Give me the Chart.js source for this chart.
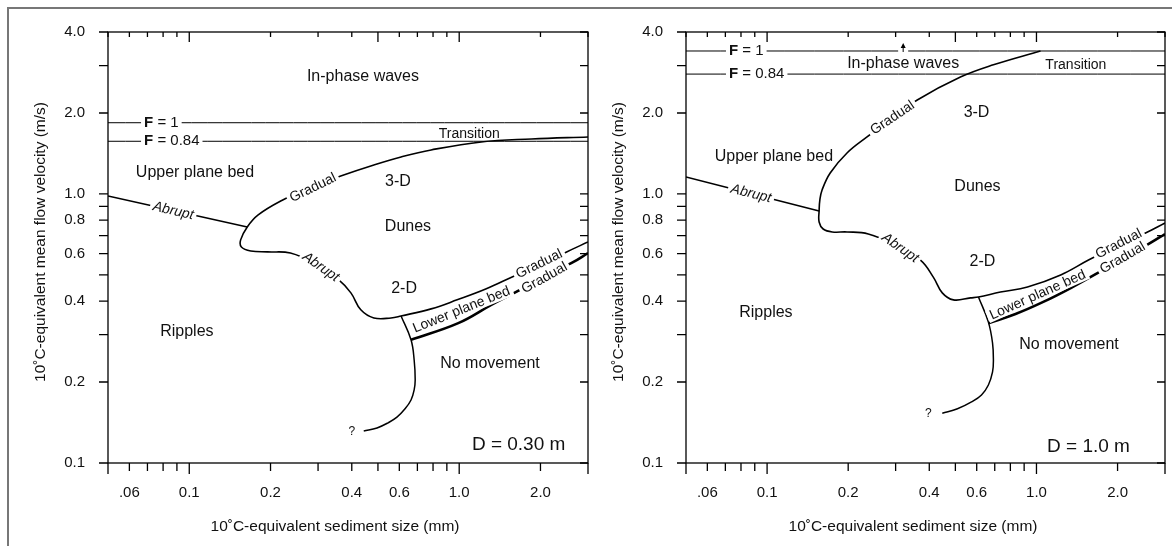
<!DOCTYPE html>
<html>
<head>
<meta charset="utf-8">
<script src="https://cdn.jsdelivr.net/npm/chart.js@4.4.0/dist/chart.umd.min.js"></script>
<style>
  body { margin: 0; background: #fff; }
  #wrap { position: relative; width: 1172px; height: 546px; overflow: hidden; }
  #frame { position: absolute; left: 7px; top: 7px; width: 1300px; height: 700px; border-left: 2px solid #777; border-top: 2px solid #777; }
  canvas { position: absolute; top: 0; }
  #left { left: 0; }
  #right { left: 590px; }
</style>
</head>
<body>
<div id="wrap">
  <div id="frame"></div>
  <canvas id="left" width="590" height="546"></canvas>
  <canvas id="right" width="582" height="546"></canvas>
</div>
<script>
const FONT = '"Liberation Sans", Arial, Helvetica, sans-serif';

// axes (shared by both panels)
const xMin = 0.05, xMax = 3.0, yMin = 0.1, yMax = 4.0;
const xTickValues = [0.05, 0.06, 0.07, 0.08, 0.09, 0.1, 0.2, 0.3, 0.4, 0.5, 0.6, 0.7, 0.8, 0.9, 1.0, 2.0, 3.0];
const xLabelValues = [0.06, 0.1, 0.2, 0.4, 0.6, 1.0, 2.0];
const xLabelTexts = ['.06', '0.1', '0.2', '0.4', '0.6', '1.0', '2.0'];
const yTickValues = [0.1, 0.2, 0.3, 0.4, 0.5, 0.6, 0.7, 0.8, 0.9, 1.0, 2.0, 3.0, 4.0];
const yLabelValues = [0.1, 0.2, 0.4, 0.6, 0.8, 1.0, 2.0, 4.0];
const yLabelTexts = ['0.1', '0.2', '0.4', '0.6', '0.8', '1.0', '2.0', '4.0'];
const xTitle = '10˚C-equivalent sediment size (mm)';
const yTitle = '10˚C-equivalent mean flow velocity (m/s)';

// D = 0.30 m panel, points are [sediment size mm, velocity m/s]
const leftFroude = [1.84, 1.57];
const leftAbrupt = [[0.05, 0.983], [0.164, 0.754]];
const leftMain = [
  [3.0, 0.663], [2.50, 0.609], [2.02, 0.549], [1.60, 0.496], [1.26, 0.444], [0.983, 0.404],
  [0.787, 0.374], [0.609, 0.352], [0.559, 0.346], [0.483, 0.346], [0.432, 0.371], [0.397, 0.429],
  [0.358, 0.479], [0.294, 0.549], [0.237, 0.603], [0.195, 0.609], [0.169, 0.614], [0.156, 0.635],
  [0.155, 0.675], [0.164, 0.754], [0.180, 0.836], [0.222, 0.950], [0.282, 1.062], [0.364, 1.167],
  [0.483, 1.282], [0.609, 1.373], [0.787, 1.458], [1.207, 1.561], [1.853, 1.601], [3.0, 1.629]
];
const leftLowerBed = [[0.663, 0.287], [0.992, 0.331], [1.315, 0.387], [1.60, 0.429], [2.02, 0.487], [2.61, 0.554], [3.0, 0.603]];
const leftNoMove = [
  [0.609, 0.352], [0.663, 0.287], [0.681, 0.2415], [0.687, 0.2035], [0.681, 0.187], [0.663, 0.1715],
  [0.630, 0.159], [0.588, 0.148], [0.545, 0.141], [0.496, 0.135], [0.443, 0.1315]
];
const leftRegions = [
  ['In-phase waves', 0.44, 2.72], ['Upper plane bed', 0.105, 1.20], ['3-D', 0.593, 1.11],
  ['Dunes', 0.646, 0.754], ['2-D', 0.625, 0.444], ['Ripples', 0.098, 0.307], ['No movement', 1.30, 0.235]
];
const leftLineLabels = [
  ['Abrupt', 0.0872, 0.865, 13, true], ['Gradual', 0.287, 1.053, -26, false], ['Abrupt', 0.307, 0.535, 35, true],
  ['Lower plane bed', 1.02, 0.371, -22, false], ['Gradual', 1.98, 0.549, -26, false], ['Gradual', 2.07, 0.487, -29, false]
];
const leftTransition = [1.09, 1.67];
const leftFLabelAt = 0.068;
const leftDepth = ['D = 0.30 m', 1.66, 0.117];
const leftQuery = [0.40, 0.131];

// D = 1.0 m panel
const rightFroude = [3.40, 2.79];
const rightAbrupt = [[0.05, 1.157], [0.156, 0.865]];
const rightMain = [
  [3.0, 0.780], [2.54, 0.716], [2.02, 0.646], [1.56, 0.568], [1.23, 0.500], [0.926, 0.451],
  [0.735, 0.432], [0.609, 0.414], [0.569, 0.411], [0.4915, 0.404], [0.447, 0.429], [0.414, 0.491],
  [0.371, 0.568], [0.299, 0.646], [0.2375, 0.710], [0.198, 0.7225], [0.1745, 0.7225], [0.1615, 0.741],
  [0.156, 0.787], [0.156, 0.865], [0.157, 0.950], [0.160, 1.035], [0.1715, 1.197], [0.198, 1.42],
  [0.235, 1.629], [0.292, 1.916], [0.361, 2.236], [0.522, 2.72], [0.692, 3.02], [1.035, 3.40]
];
const rightLowerBed = [[0.663, 0.331], [0.836, 0.358], [1.06, 0.397], [1.34, 0.447], [1.69, 0.509], [2.09, 0.573], [2.61, 0.652], [3.0, 0.710]];
const rightNoMove = [
  [0.609, 0.414], [0.663, 0.334], [0.687, 0.279], [0.692, 0.2415], [0.687, 0.218], [0.663, 0.195],
  [0.625, 0.179], [0.574, 0.1686], [0.509, 0.159], [0.447, 0.153]
];
const rightRegions = [
  ['In-phase waves', 0.32, 3.04], ['Upper plane bed', 0.106, 1.38], ['3-D', 0.599, 2.00],
  ['Dunes', 0.604, 1.062], ['2-D', 0.630, 0.559], ['Ripples', 0.099, 0.361], ['No movement', 1.32, 0.275]
];
const rightLineLabels = [
  ['Abrupt', 0.0872, 1.003, 14, true], ['Gradual', 0.292, 1.916, -34, false], ['Abrupt', 0.312, 0.630, 35, true],
  ['Lower plane bed', 1.01, 0.421, -24, false], ['Gradual', 2.02, 0.652, -27, false], ['Gradual', 2.09, 0.578, -30, false]
];
const rightTransition = [1.40, 3.02];
const rightFLabelAt = 0.0722;
const rightDepth = ['D = 1.0 m', 1.56, 0.115];
const rightQuery = [0.397, 0.153];
const rightArrow = [0.32, 3.40, 3.64];

const xLongBottom = [0.05, 0.1, 1.0, 3.0];
const xLongTop = [0.1, 0.5, 1.0];

function curve(points, width) {
  return {
    data: points.map(p => ({ x: p[0], y: p[1] })),
    borderColor: '#000',
    borderWidth: width,
    pointRadius: 0,
    tension: 0.4,
    fill: false
  };
}

function hline(v) {
  return curve([[xMin, v], [xMax, v]], 1);
}

function text(ctx, str, x, y, size, opts = {}) {
  ctx.save();
  ctx.translate(x, y);
  if (opts.angle) ctx.rotate(opts.angle * Math.PI / 180);
  ctx.font = (opts.italic ? 'italic ' : '') + (opts.bold ? 'bold ' : '') + size + 'px ' + FONT;
  ctx.textAlign = opts.align || 'center';
  ctx.textBaseline = 'middle';
  if (opts.bg) {
    const w = ctx.measureText(str).width;
    const x0 = ctx.textAlign === 'left' ? -3 : -w / 2 - 3;
    ctx.fillStyle = '#fff';
    ctx.fillRect(x0, -size * 0.45, w + 6, size * 0.9);
  }
  ctx.fillStyle = '#111';
  ctx.fillText(str, 0, 0);
  ctx.restore();
}

function froudeLabel(ctx, x, y, value) {
  ctx.save();
  ctx.textBaseline = 'middle';
  ctx.font = 'bold 15px ' + FONT;
  const wF = ctx.measureText('F').width;
  ctx.font = '15px ' + FONT;
  const rest = ' = ' + value;
  const wR = ctx.measureText(rest).width;
  ctx.fillStyle = '#fff';
  ctx.fillRect(x - 3, y - 7, wF + wR + 6, 14);
  ctx.fillStyle = '#111';
  ctx.font = 'bold 15px ' + FONT;
  ctx.fillText('F', x, y);
  ctx.font = '15px ' + FONT;
  ctx.fillText(rest, x + wF, y);
  ctx.restore();
}

function notesPlugin(p) {
  return {
    id: 'notes',
    afterDatasetsDraw(chart) {
      const ctx = chart.ctx, a = chart.chartArea;
      const xs = chart.scales.x, ys = chart.scales.y;
      const X = v => xs.getPixelForValue(v), Y = v => ys.getPixelForValue(v);

      // frame and tick marks
      ctx.save();
      ctx.strokeStyle = '#000';
      ctx.lineWidth = 1.3;
      ctx.strokeRect(a.left, a.top, a.right - a.left, a.bottom - a.top);
      ctx.beginPath();
      xTickValues.forEach(v => {
        const px = X(v);
        ctx.moveTo(px, a.bottom);
        ctx.lineTo(px, a.bottom + (xLongBottom.includes(v) ? 11 : 8));
        ctx.moveTo(px, a.top);
        ctx.lineTo(px, a.top + (xLongTop.includes(v) ? 10 : 5));
      });
      yTickValues.forEach(v => {
        const py = Y(v);
        ctx.moveTo(a.left - 9, py);
        ctx.lineTo(a.left, py);
        ctx.moveTo(a.right - 8, py);
        ctx.lineTo(a.right, py);
      });
      ctx.stroke();
      ctx.restore();

      p.regions.forEach(r => text(ctx, r[0], X(r[1]), Y(r[2]), 16));
      p.lineLabels.forEach(r => text(ctx, r[0], X(r[1]), Y(r[2]), 14, { angle: r[3], italic: r[4], bg: true }));
      text(ctx, 'Transition', X(p.transition[0]), Y(p.transition[1]), 14);
      froudeLabel(ctx, X(p.fAt), Y(p.froude[0]), '1');
      froudeLabel(ctx, X(p.fAt), Y(p.froude[1]), '0.84');
      text(ctx, p.depth[0], X(p.depth[1]), Y(p.depth[2]), 19);
      text(ctx, '?', X(p.query[0]), Y(p.query[1]), 12);

      if (p.arrow) {
        const ax = X(p.arrow[0]), y0 = Y(p.arrow[1]), y1 = Y(p.arrow[2]);
        ctx.save();
        ctx.fillStyle = '#fff';
        ctx.fillRect(ax - 5, y0 - 2, 10, 4);
        ctx.strokeStyle = '#000';
        ctx.fillStyle = '#000';
        ctx.lineWidth = 1;
        ctx.beginPath();
        ctx.moveTo(ax, y0 + 1);
        ctx.lineTo(ax, y1 + 3);
        ctx.stroke();
        ctx.beginPath();
        ctx.moveTo(ax, y1);
        ctx.lineTo(ax - 2.5, y1 + 5);
        ctx.lineTo(ax + 2.5, y1 + 5);
        ctx.closePath();
        ctx.fill();
        ctx.restore();
      }

      // axis titles
      ctx.save();
      ctx.font = '15.5px ' + FONT;
      ctx.fillStyle = '#111';
      ctx.textAlign = 'center';
      ctx.textBaseline = 'middle';
      ctx.fillText(xTitle, a.left + 227, a.bottom + 64);
      ctx.translate(a.left - 67, a.top + 210);
      ctx.rotate(-Math.PI / 2);
      ctx.fillText(yTitle, 0, 0);
      ctx.restore();
    }
  };
}

function buildPanel(id, p) {
  const tickFont = { family: FONT, size: 15 };
  // invisible tick marks only push the labels away from the axis;
  // the visible ticks are drawn by the notes plugin
  const hiddenGrid = len => ({ display: true, drawOnChartArea: false, drawTicks: true, tickLength: len, tickColor: 'rgba(0,0,0,0)' });
  return new Chart(document.getElementById(id), {
    type: 'line',
    data: {
      datasets: [
        hline(p.froude[0]),
        hline(p.froude[1]),
        curve(p.abrupt, 1.5),
        curve(p.main, 1.6),
        curve(p.lowerBed, 2.6),
        curve(p.noMove, 1.5)
      ]
    },
    options: {
      responsive: false,
      animation: false,
      layout: { padding: { top: 32, right: p.padRight, bottom: 0, left: 0 } },
      plugins: { legend: { display: false }, tooltip: { enabled: false } },
      scales: {
        x: {
          type: 'logarithmic',
          min: xMin,
          max: xMax,
          bounds: 'data',
          afterBuildTicks: s => { s.ticks = xTickValues.map(v => ({ value: v })); },
          afterFit: s => { s.height = 83; },
          grid: hiddenGrid(21),
          border: { display: false },
          ticks: {
            autoSkip: false,
            maxRotation: 0,
            padding: 0,
            color: '#111',
            font: tickFont,
            callback: v => {
              const i = xLabelValues.indexOf(v);
              return i >= 0 ? xLabelTexts[i] : '';
            }
          }
        },
        y: {
          type: 'logarithmic',
          min: yMin,
          max: yMax,
          bounds: 'data',
          afterBuildTicks: s => { s.ticks = yTickValues.map(v => ({ value: v })); },
          afterFit: s => { s.width = p.axisWidth; },
          grid: hiddenGrid(23),
          border: { display: false },
          ticks: {
            autoSkip: false,
            padding: 0,
            color: '#111',
            font: tickFont,
            callback: v => {
              const i = yLabelValues.indexOf(v);
              return i >= 0 ? yLabelTexts[i] : '';
            }
          }
        }
      }
    },
    plugins: [notesPlugin(p)]
  });
}

buildPanel('left', {
  froude: leftFroude, abrupt: leftAbrupt, main: leftMain, lowerBed: leftLowerBed, noMove: leftNoMove,
  regions: leftRegions, lineLabels: leftLineLabels, transition: leftTransition, fAt: leftFLabelAt,
  depth: leftDepth, query: leftQuery, arrow: null, axisWidth: 108, padRight: 2
});

buildPanel('right', {
  froude: rightFroude, abrupt: rightAbrupt, main: rightMain, lowerBed: rightLowerBed, noMove: rightNoMove,
  regions: rightRegions, lineLabels: rightLineLabels, transition: rightTransition, fAt: rightFLabelAt,
  depth: rightDepth, query: rightQuery, arrow: rightArrow, axisWidth: 96, padRight: 7
});
</script>
</body>
</html>
